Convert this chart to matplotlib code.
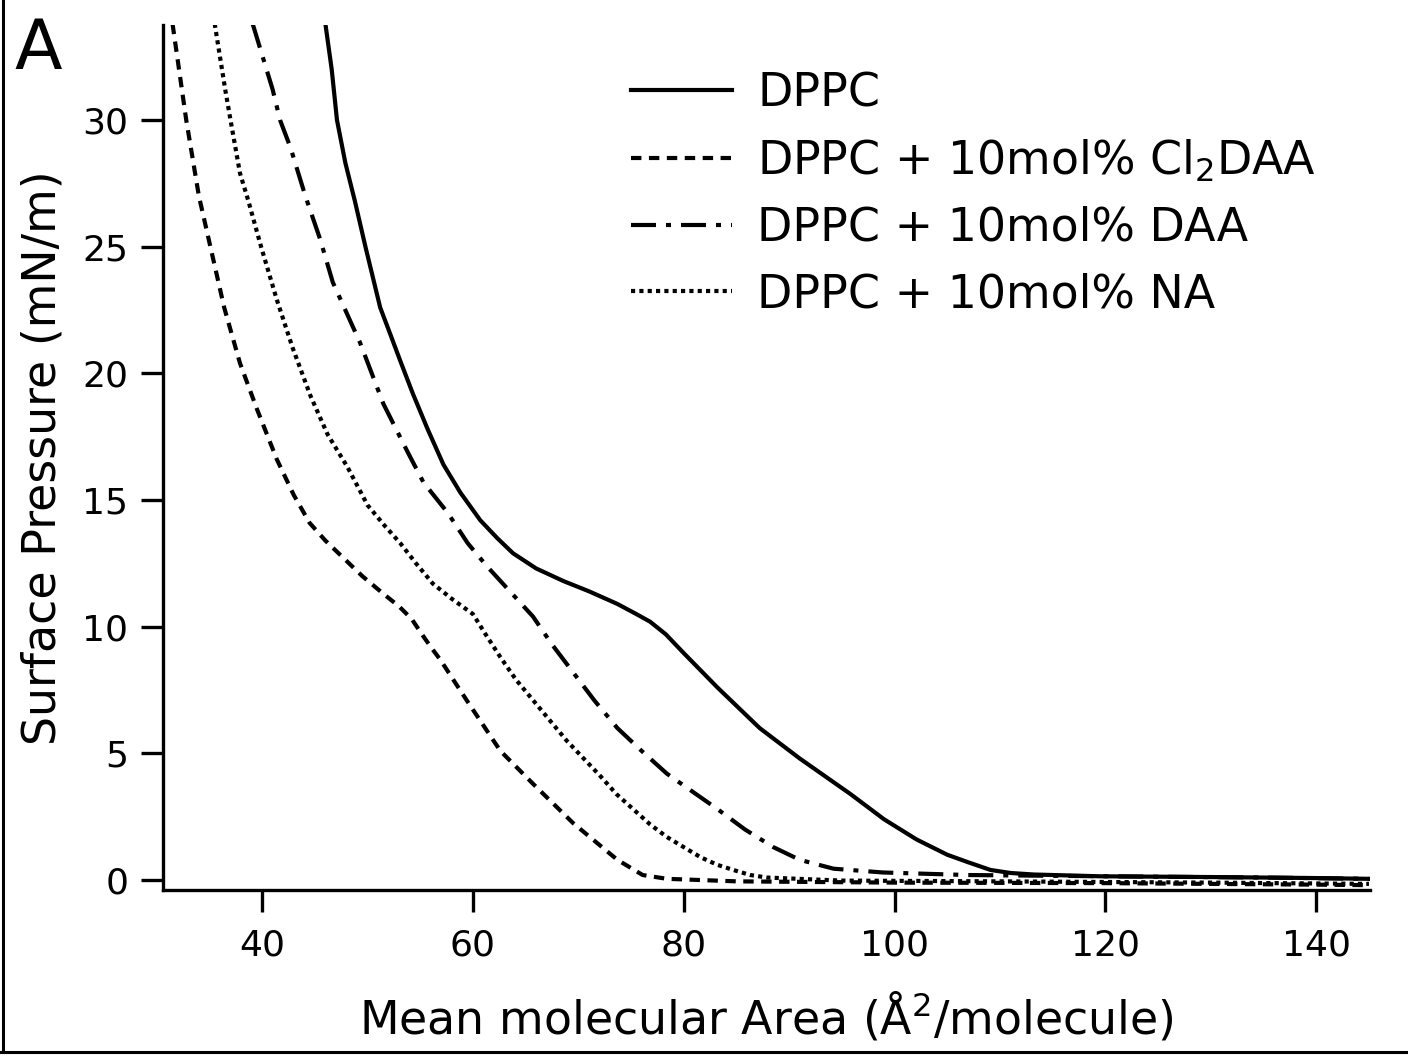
import matplotlib
matplotlib.use("Agg")
import matplotlib.pyplot as plt
from matplotlib.lines import Line2D

# isotherm data (area in A^2/molecule, pressure in mN/m)
dppc_x = [46.0, 46.6, 47.1, 47.9, 48.8, 49.8, 51.2, 52.2, 53.1, 54.3, 55.7, 57.2,
          58.8, 60.7, 62.3, 63.8, 66.0, 68.6, 71.0, 73.7, 75.5, 76.8, 78.3, 79.9,
          83.2, 87.2, 91.0, 95.8, 99.0, 102.1, 105.0, 107.0, 109.1, 111.0, 113.2,
          119.5, 130.0, 140.0, 145.0]
dppc_y = [33.8, 32.0, 30.0, 28.3, 26.8, 25.0, 22.6, 21.5, 20.5, 19.2, 17.8, 16.4,
          15.3, 14.2, 13.5, 12.9, 12.3, 11.8, 11.4, 10.9, 10.5, 10.2, 9.7, 9.0,
          7.6, 6.0, 4.8, 3.4, 2.4, 1.6, 1.0, 0.7, 0.4, 0.28, 0.22,
          0.15, 0.12, 0.08, 0.05]

cl2daa_x = [31.5, 32.8, 34.0, 35.2, 36.4, 37.9, 39.5, 41.4, 43.0, 44.5, 46.0, 47.5,
            49.5, 51.5, 53.0, 54.2, 55.0, 56.0, 56.9, 59.4, 62.6, 65.7, 69.5, 73.7,
            76.1, 78.4, 85.0, 100.0, 120.0, 140.0, 145.0]
cl2daa_y = [33.8, 30.0, 27.0, 24.8, 22.6, 20.4, 18.6, 16.6, 15.2, 14.1, 13.4, 12.8,
            12.0, 11.3, 10.8, 10.3, 9.8, 9.2, 8.7, 7.1, 5.1, 3.8, 2.25, 0.8,
            0.2, 0.05, -0.05, -0.1, -0.12, -0.18, -0.2]

daa_x = [39.1, 41.0, 41.7, 42.7, 44.1, 45.5, 46.7, 48.0, 49.3, 51.5, 53.8, 55.3,
         57.6, 59.5, 61.3, 63.5, 65.7, 67.5, 69.5, 71.5, 73.7, 76.0, 78.4, 80.8,
         83.2, 85.8, 88.5, 91.0, 94.2, 98.9, 106.9, 120.0, 135.0, 145.0]
daa_y = [33.8, 31.2, 30.0, 28.9, 27.0, 25.3, 23.6, 22.4, 21.2, 18.8, 16.9, 15.7,
         14.5, 13.3, 12.4, 11.4, 10.4, 9.3, 8.2, 7.1, 6.0, 5.1, 4.2, 3.5,
         2.8, 2.0, 1.3, 0.8, 0.45, 0.3, 0.2, 0.15, 0.1, 0.05]

na_x = [35.5, 36.5, 37.0, 37.9, 38.7, 39.9, 41.4, 42.9, 44.6, 46.2, 48.1, 50.0,
        51.6, 53.1, 54.6, 56.2, 58.0, 60.0, 61.2, 62.6, 64.1, 65.7, 67.3, 68.9,
        70.5, 72.1, 73.6, 75.2, 76.8, 78.4, 80.0, 81.6, 83.2, 84.7, 86.3, 87.9,
        95.0, 110.0, 130.0, 145.0]
na_y = [33.8, 31.2, 30.0, 27.9, 26.8, 25.0, 22.9, 21.0, 19.1, 17.6, 16.3, 14.8,
        14.0, 13.3, 12.5, 11.7, 11.1, 10.5, 9.7, 8.8, 7.9, 7.1, 6.3, 5.5,
        4.8, 4.1, 3.4, 2.8, 2.2, 1.7, 1.3, 0.9, 0.6, 0.4, 0.2, 0.1,
        -0.02, -0.05, -0.1, -0.15]

labels = ["DPPC", "DPPC + 10mol% Cl$_2$DAA", "DPPC + 10mol% DAA", "DPPC + 10mol% NA"]
x_ticks = [40, 60, 80, 100, 120, 140]
y_ticks = [0, 5, 10, 15, 20, 25, 30]

plt.rcParams["font.family"] = "DejaVu Sans"
plt.rcParams["mathtext.fontset"] = "dejavusans"

fig = plt.figure(figsize=(14.08, 10.61), dpi=100)
ax = fig.add_axes([0.1158, 0.1612, 0.8572, 0.8152])

lw = 3.0
ax.plot(dppc_x, dppc_y, color="black", lw=lw, ls="-", label=labels[0])
ax.plot(cl2daa_x, cl2daa_y, color="black", lw=lw, dashes=(2.5, 1.8), label=labels[1])
ax.plot(daa_x, daa_y, color="black", lw=lw, dashes=(6.0, 2.4, 1.2, 2.4), label=labels[2])
ax.plot(na_x, na_y, color="black", lw=lw, dashes=(1.0, 1.0), label=labels[3])

ax.set_xlim(30.6, 145.1)
ax.set_ylim(-0.39, 33.75)
ax.set_xticks(x_ticks)
ax.set_yticks(y_ticks)
for s in ("top", "right"):
    ax.spines[s].set_visible(False)
for s in ("left", "bottom"):
    ax.spines[s].set_linewidth(2.4)
ax.tick_params(direction="out", length=16, width=2.4, labelsize=26)
ax.tick_params(axis="x", pad=12)
ax.tick_params(axis="y", pad=9)

ax.set_xlabel("Mean molecular Area (Å$^2$/molecule)", fontsize=33, labelpad=20)
ax.set_ylabel("Surface Pressure (mN/m)", fontsize=33, labelpad=12)

ax.legend(loc="upper left", bbox_to_anchor=(0.3725, 0.968), frameon=False,
          fontsize=33, handlelength=2.2, handletextpad=0.55, labelspacing=0.47,
          borderaxespad=0)

fig.text(0.010, 0.935, "A", fontsize=50)

# border lines on the left and bottom of the panel
fig.add_artist(Line2D([0.002, 0.002], [0.0085, 1.0], transform=fig.transFigure,
                      color="black", lw=2.2))
fig.add_artist(Line2D([0.0, 1.0], [0.0085, 0.0085], transform=fig.transFigure,
                      color="black", lw=2.2))

fig.savefig("out.png", dpi=100)
